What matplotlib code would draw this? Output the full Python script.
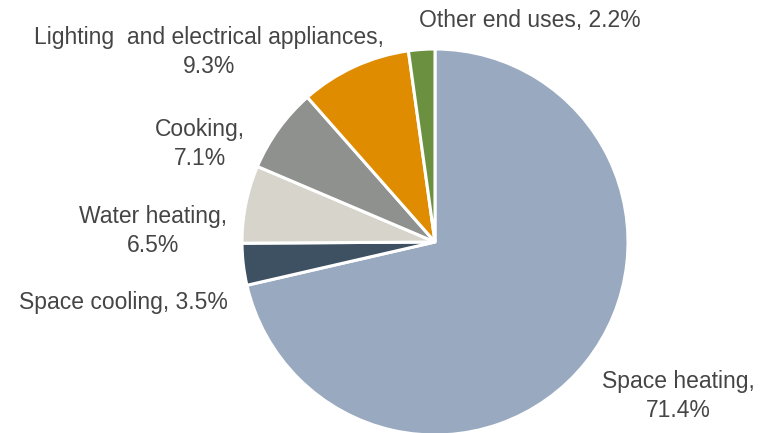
import matplotlib.pyplot as plt

labels = ['Space heating', 'Space cooling', 'Water heating', 'Cooking',
          'Lighting and electrical appliances', 'Other end uses']
shares = [71.4, 3.5, 6.5, 7.1, 9.3, 2.2]
colors = ['#98a9c0', '#3e5163', '#d6d4cb', '#8e918e', '#e08c00', '#6b9140']

# label text and placement (pixel centres in the 766x433 canvas)
label_text = ['Space heating,\n71.4%', 'Space cooling, 3.5%', 'Water heating,\n6.5%',
              'Cooking,\n7.1%', 'Lighting  and electrical appliances,\n9.3%',
              'Other end uses, 2.2%']
label_px = [(678, 396), (123, 302), (153, 231), (200, 144), (209, 52), (530, 20)]

W, H = 766, 433
cx, cy, r = 435, 242, 193

fig = plt.figure(figsize=(W / 100, H / 100), dpi=100)
ax = fig.add_axes([0, 0, 1, 1])
ax.pie(shares, colors=colors, startangle=90, counterclock=False, radius=1,
       wedgeprops=dict(edgecolor='white', linewidth=2.2))
ax.set_xlim(-cx / r, (W - cx) / r)
ax.set_ylim((cy - H) / r, cy / r)
ax.set_aspect('equal')
ax.axis('off')

for txt, (px, py) in zip(label_text, label_px):
    ax.text((px - cx) / r, (cy - py) / r, txt, ha='center', va='center',
            fontsize=16.5, color='#454545', family='Liberation Sans',
            linespacing=1.32)

fig.savefig('out.png', dpi=100)
